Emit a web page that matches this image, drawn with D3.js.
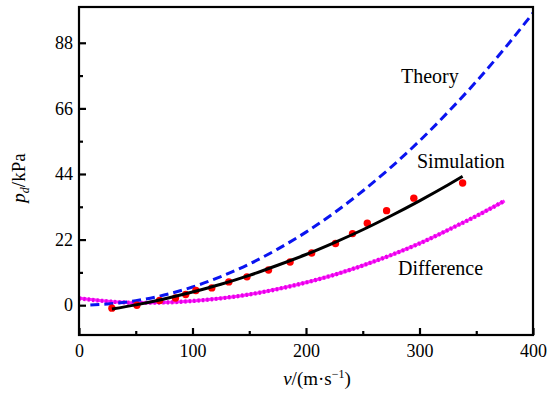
<!doctype html>
<html>
<head>
	<meta charset="utf-8">
	<style>
		html body svg#Chart text, html body svg#Chart tspan { font-family: "Liberation Serif", "Times New Roman", serif !important; }
	</style>
</head>
<body>
	<svg id="Chart" width="555" height="395"></svg>

	<script src="https://cdn.jsdelivr.net/npm/d3@7/dist/d3.min.js"></script>
	<script>
		// theory curve (blue dashed)
		var theoryV = [10, 25, 50, 75, 100, 125, 150, 175, 200, 225, 250, 275, 300, 325, 350, 375, 400];
		var theoryP = [0.1, 0.4, 1.5, 3.4, 6.1, 9.6, 13.8, 18.8, 24.5, 31.0, 38.3, 46.3, 55.1, 64.7, 75.0, 86.1, 98.0];

		// simulation fit (black line)
		var simV = [29, 50, 75, 100, 125, 150, 175, 200, 225, 250, 275, 300, 325, 338];
		var simP = [-1.3, 0.1, 2.1, 4.4, 7.0, 10.0, 13.4, 17.0, 21.0, 25.3, 30.0, 35.0, 40.3, 43.2];

		// simulation points (red dots)
		var pointV = [29, 51, 71, 85, 94, 103, 117, 132, 148, 167, 186, 205, 226, 241, 254, 271, 295, 338];
		var pointP = [-1.0, 0.0, 1.6, 2.4, 3.6, 4.9, 5.8, 7.8, 9.5, 11.8, 14.5, 17.5, 20.7, 24.0, 27.5, 31.7, 35.9, 41.0];

		// difference curve (magenta)
		var diffV = [0, 25, 50, 75, 100, 125, 150, 175, 200, 225, 250, 275, 300, 325, 350, 375];
		var diffP = [2.3, 1.3, 0.8, 0.9, 1.4, 2.3, 3.6, 5.4, 7.6, 10.2, 13.3, 16.8, 20.7, 25.2, 29.9, 35.0];

		var xTicks = [0, 100, 200, 300, 400],
			xMinor = [50, 150, 250, 350],
			yTicks = [0, 22, 44, 66, 88],
			yMinor = [11, 33, 55, 77];

		var box = { left: 79, right: 533, top: 7, bottom: 335 };
		var FONT = "'Liberation Serif', 'Times New Roman', serif";

		d3.select("body").style("margin", "0").style("background", "#fff");
		var svg = d3.select("#Chart");

		var x = d3.scaleLinear([0, 400], [box.left, box.right]),
			y = d3.scaleLinear([-10, 100], [box.bottom, box.top]);

		function pairs(vs, ps) {
			return vs.map(function (v, i) { return [v, ps[i]]; });
		}

		var line = d3.line()
			.x(function (d) { return x(d[0]); })
			.y(function (d) { return y(d[1]); })
			.curve(d3.curveMonotoneX);

		var plot = svg.append("g");

		// magenta difference: thick line plus bead-like squares
		plot.append("path")
			.datum(pairs(diffV, diffP))
			.attr("fill", "none")
			.attr("stroke", "#ff1aff")
			.attr("stroke-width", 3)
			.attr("d", line);
		plot.append("path")
			.datum(pairs(diffV, diffP))
			.attr("fill", "none")
			.attr("stroke", "#e600e6")
			.attr("stroke-width", 4.2)
			.attr("stroke-dasharray", "2.2,2.2")
			.attr("d", line);

		// theory
		plot.append("path")
			.datum(pairs(theoryV, theoryP))
			.attr("fill", "none")
			.attr("stroke", "#0a14f0")
			.attr("stroke-width", 3)
			.attr("stroke-dasharray", "9,5")
			.attr("d", line);

		// red points
		plot.selectAll("circle")
			.data(pairs(pointV, pointP))
			.join("circle")
			.attr("cx", function (d) { return x(d[0]); })
			.attr("cy", function (d) { return y(d[1]); })
			.attr("r", 3.7)
			.attr("fill", "#ff0000");

		// simulation fit
		plot.append("path")
			.datum(pairs(simV, simP))
			.attr("fill", "none")
			.attr("stroke", "#000")
			.attr("stroke-width", 3)
			.attr("d", line);

		// frame
		svg.append("rect")
			.attr("x", box.left)
			.attr("y", box.top)
			.attr("width", box.right - box.left)
			.attr("height", box.bottom - box.top)
			.attr("fill", "none")
			.attr("stroke", "#000")
			.attr("stroke-width", 2.2);

		// axes, ticks pointing inward
		svg.append("g")
			.attr("transform", "translate(0," + box.bottom + ")")
			.call(d3.axisBottom(x).tickValues(xTicks).tickSize(-7).tickPadding(9));
		svg.append("g")
			.attr("transform", "translate(0," + box.bottom + ")")
			.call(d3.axisBottom(x).tickValues(xMinor).tickSize(-4).tickFormat(""));
		svg.append("g")
			.attr("transform", "translate(" + box.left + ",0)")
			.call(d3.axisLeft(y).tickValues(yTicks).tickSize(-7).tickPadding(6));
		svg.append("g")
			.attr("transform", "translate(" + box.left + ",0)")
			.call(d3.axisLeft(y).tickValues(yMinor).tickSize(-4).tickFormat(""));

		svg.selectAll(".domain").remove();
		svg.selectAll(".tick line").attr("stroke", "#000").attr("stroke-width", 2.2);
		svg.selectAll(".tick text")
			.attr("font-size", 18)
			.attr("fill", "#000");

		// curve labels
		var labels = [
			{ t: "Theory", x: 401, y: 83 },
			{ t: "Simulation", x: 417, y: 168 },
			{ t: "Difference", x: 398, y: 275 }
		];
		svg.selectAll("text.lbl")
			.data(labels)
			.join("text")
			.attr("class", "lbl")
			.attr("x", function (d) { return d.x; })
			.attr("y", function (d) { return d.y; })
			.attr("font-size", 20)
			.text(function (d) { return d.t; });

		// axis titles
		var xt = svg.append("text")
			.attr("x", 317)
			.attr("y", 385)
			.attr("text-anchor", "middle")
			.attr("font-size", 19);
		xt.append("tspan").attr("font-style", "italic").text("v");
		xt.append("tspan").text("/(m·s");
		xt.append("tspan").attr("dy", -7).attr("font-size", 12).text("−1");
		xt.append("tspan").attr("dy", 7).text(")");

		var yt = svg.append("text")
			.attr("transform", "translate(25,178) rotate(-90)")
			.attr("text-anchor", "middle")
			.attr("font-size", 19);
		yt.append("tspan").attr("font-style", "italic").text("p");
		yt.append("tspan").attr("font-style", "italic").attr("dy", 4).attr("font-size", 12).text("d");
		yt.append("tspan").attr("dy", -4).text("/kPa");

		// force the serif face with inline !important as well
		svg.selectAll("text, tspan").style("font-family", FONT, "important");
	</script>
</body>
</html>
